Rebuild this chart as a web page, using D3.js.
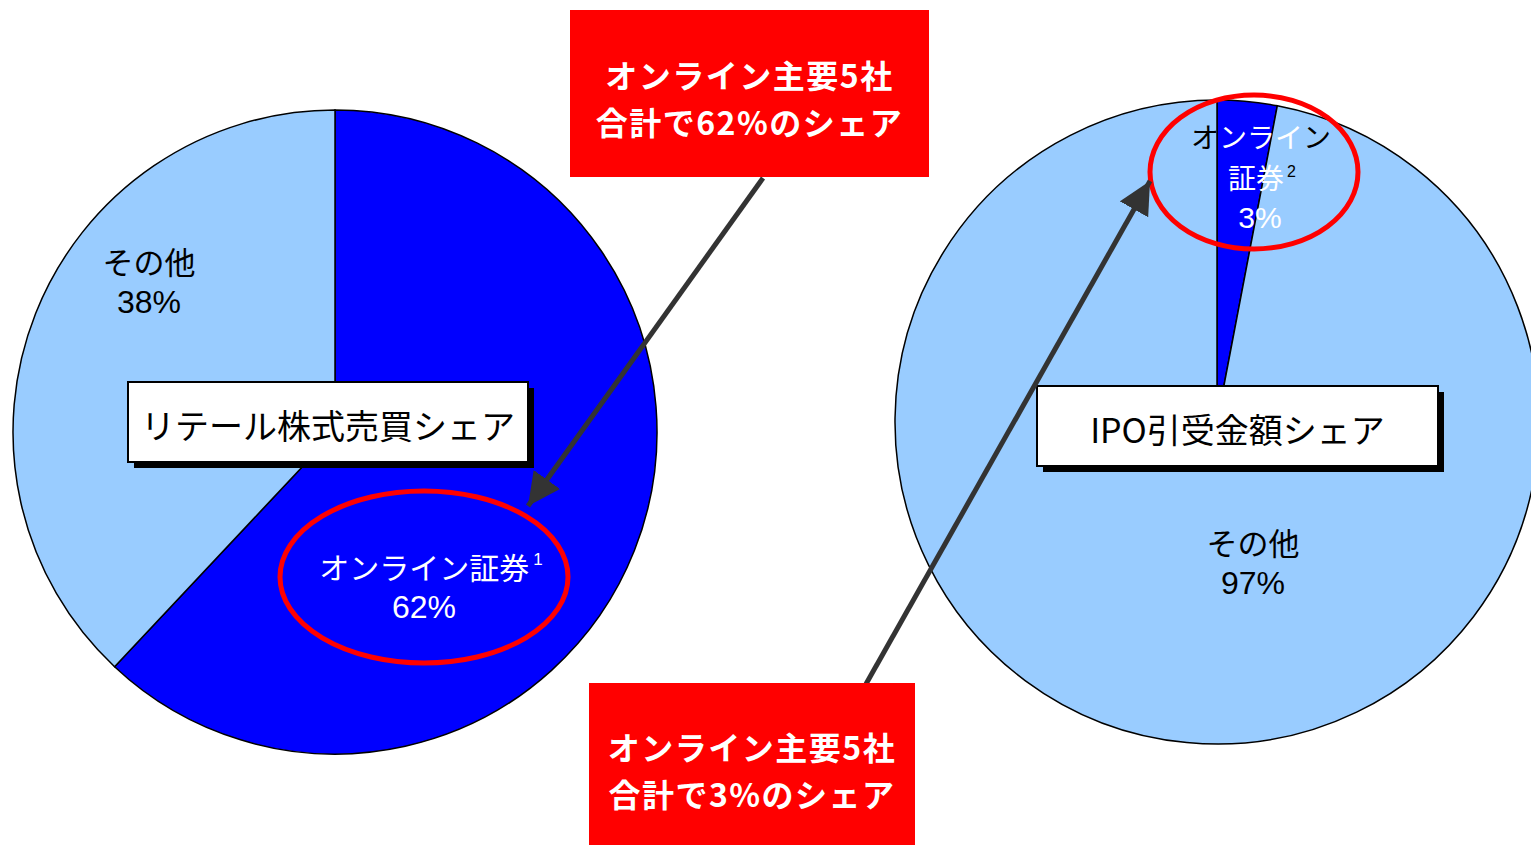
<!DOCTYPE html>
<html>
<head>
<meta charset="utf-8">
<script src="https://cdn.jsdelivr.net/npm/d3@7"></script>
<style>
  body { margin: 0; background: #fff; }
  svg { display: block; font-family: "Noto Sans CJK JP", sans-serif; }
  text, tspan { dominant-baseline: central; }
</style>
</head>
<body>
<div id="chart"></div>
<script>
// data
const sliceNames = ["オンライン証券", "その他"];
const retailShare = [62, 38];   // リテール株式売買シェア
const ipoShare = [3, 97];       // IPO引受金額シェア
const pieTitles = ["リテール株式売買シェア", "IPO引受金額シェア"];
const calloutLines = [
  ["オンライン主要5社", "合計で62%のシェア"],
  ["オンライン主要5社", "合計で3%のシェア"]
];

const width = 1531, height = 845;
const radius = 322;
const colors = ["#0000ff", "#99ccff"];
const numFont = "Liberation Sans, Arial, sans-serif";

const svg = d3.select("#chart").append("svg")
  .attr("width", width)
  .attr("height", height);

const pie = d3.pie().sort(null).value(d => d);
const arc = d3.arc().innerRadius(0).outerRadius(radius);

function drawPie(values, cx, cy) {
  const g = svg.append("g").attr("transform", `translate(${cx},${cy})`);
  g.selectAll("path")
    .data(pie(values))
    .join("path")
    .attr("d", arc)
    .attr("fill", (d, i) => colors[i])
    .attr("stroke", "#000")
    .attr("stroke-width", 1.5);
  return g;
}

drawPie(retailShare, 335, 432);
drawPie(ipoShare, 1217, 422);

// title boxes with drop shadow
function titleBox(x, y, w, h, label) {
  svg.append("rect").attr("x", x + 6).attr("y", y + 6).attr("width", w).attr("height", h).attr("fill", "#000");
  svg.append("rect").attr("x", x).attr("y", y).attr("width", w).attr("height", h)
    .attr("fill", "#fff").attr("stroke", "#000").attr("stroke-width", 2);
  svg.append("text").attr("x", x + w / 2).attr("y", y + h / 2 + 2)
    .attr("text-anchor", "middle")
    .attr("font-size", 34).attr("fill", "#000").text(label);
}
titleBox(128, 382, 400, 80, pieTitles[0]);
titleBox(1037, 386, 401, 80, pieTitles[1]);

// multi-line label in one text element
function multiLabel(lines, size, fill) {
  const t = svg.append("text").attr("text-anchor", "middle")
    .attr("font-size", size).attr("fill", fill);
  lines.forEach(line => {
    line.parts.forEach((p, j) => {
      const s = t.append("tspan").text(p.t);
      if (j === 0) s.attr("x", line.x).attr("y", line.y);
      if (p.fill) s.attr("fill", p.fill);
      if (p.size) s.attr("font-size", p.size);
      if (p.font) s.attr("font-family", p.font);
      if (p.dx) s.attr("dx", p.dx);
      if (p.dy) s.attr("dy", p.dy);
    });
  });
  return t;
}

multiLabel([
  { x: 149, y: 260, parts: [{ t: sliceNames[1], size: 31 }] },
  { x: 149, y: 302, parts: [{ t: retailShare[1] + "%", font: numFont }] }
], 32, "#000");

multiLabel([
  { x: 1253, y: 541, parts: [{ t: sliceNames[1], size: 31 }] },
  { x: 1253, y: 583, parts: [{ t: ipoShare[1] + "%", font: numFont }] }
], 32, "#000");

multiLabel([
  { x: 431, y: 566, parts: [{ t: sliceNames[0], size: 30 }, { t: "1", size: 17, font: numFont, dx: 4, dy: -7 }] },
  { x: 424, y: 607, parts: [{ t: retailShare[0] + "%", font: numFont }] }
], 32, "#fff");

// right small slice label: coloured per character as in the original
multiLabel([
  { x: 1261, y: 136, parts: [{ t: "オ", fill: "#000" }, { t: "ンライ" }, { t: "ン", fill: "#000" }] },
  { x: 1262, y: 177, parts: [{ t: "証券" }, { t: "2", size: 16, font: numFont, fill: "#000", dx: 3, dy: -6 }] },
  { x: 1260, y: 217, parts: [{ t: ipoShare[0] + "%", size: 30, font: numFont }] }
], 28, "#fff");

// red ellipses
svg.append("ellipse").attr("cx", 424).attr("cy", 577).attr("rx", 144).attr("ry", 86)
  .attr("fill", "none").attr("stroke", "#ff0000").attr("stroke-width", 5);
svg.append("ellipse").attr("cx", 1254).attr("cy", 172).attr("rx", 104).attr("ry", 77)
  .attr("fill", "none").attr("stroke", "#ff0000").attr("stroke-width", 5);

// arrows
svg.append("defs").append("marker")
  .attr("id", "head").attr("viewBox", "0 0 10 10").attr("refX", 10).attr("refY", 5)
  .attr("markerWidth", 6.5).attr("markerHeight", 6.5).attr("markerUnits", "strokeWidth")
  .attr("orient", "auto")
  .append("path").attr("d", "M0,0 L10,5 L0,10 Z").attr("fill", "#333");

function arrow(x1, y1, x2, y2) {
  svg.append("line").attr("x1", x1).attr("y1", y1).attr("x2", x2).attr("y2", y2)
    .attr("stroke", "#333").attr("stroke-width", 5).attr("marker-end", "url(#head)");
}
arrow(763, 178, 528, 506);
arrow(866, 684, 1150, 181);

// red callout boxes, two lines in one text element
function callout(x, y, w, h, lines, firstY) {
  svg.append("rect").attr("x", x).attr("y", y).attr("width", w).attr("height", h).attr("fill", "#ff0000");
  const t = svg.append("text").attr("text-anchor", "middle")
    .attr("font-size", 32).attr("font-weight", "bold").attr("letter-spacing", 1.5).attr("fill", "#fff");
  lines.forEach((s, i) => {
    t.append("tspan").attr("x", x + w / 2).attr("y", firstY + i * 47).text(s);
  });
}
callout(570, 10, 359, 167, calloutLines[0], 74);
callout(589, 683, 326, 170, calloutLines[1], 746);
</script>
</body>
</html>
